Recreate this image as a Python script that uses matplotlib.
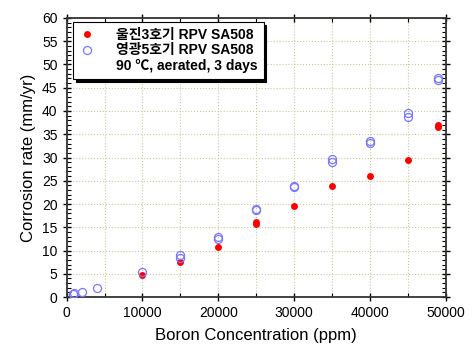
import matplotlib
matplotlib.use("Agg")
from matplotlib import pyplot as plt
from matplotlib.ticker import MultipleLocator
from matplotlib.lines import Line2D

plt.rcParams['font.family'] = ['Liberation Sans', 'Noto Sans CJK KR', 'DejaVu Sans']

# Uljin unit 3 (filled red)
uljin_x = [10000, 15000, 20000, 25000, 25000, 30000, 35000, 40000, 45000, 49000, 49000]
uljin_y = [4.8, 7.6, 10.7, 15.8, 16.1, 19.6, 23.9, 26.1, 29.4, 36.6, 36.9]

# Yonggwang unit 5 (open blue)
ygw_x = [800, 1000, 2000, 4000, 10000, 15000, 15000, 20000, 20000, 25000, 25000, 30000, 30000,
         35000, 35000, 40000, 40000, 45000, 45000, 49000, 49000]
ygw_y = [0.6, 0.8, 1.1, 1.9, 5.4, 8.5, 9.1, 12.5, 13.0, 18.7, 19.0, 23.6, 23.8,
         29.0, 29.6, 33.2, 33.5, 38.8, 39.5, 46.7, 47.2]

legend_labels = ['울진3호기 RPV SA508', '영광5호기 RPV SA508', '90 ℃, aerated, 3 days']

fig = plt.figure(figsize=(4.72, 3.52), dpi=100)
ax = fig.add_axes([0.141, 0.156, 0.804, 0.793])

ax.plot(uljin_x, uljin_y, 'o', color='#ff0000', markersize=5, markeredgewidth=0, zorder=3)
ax.plot(ygw_x, ygw_y, 'o', markerfacecolor='none', markeredgecolor='#7878ff',
        markersize=5.8, markeredgewidth=0.9, zorder=4)

ax.set_xlim(0, 50000)
ax.set_ylim(0, 60)
ax.xaxis.set_major_locator(MultipleLocator(10000))
ax.xaxis.set_minor_locator(MultipleLocator(5000))
ax.yaxis.set_major_locator(MultipleLocator(5))
ax.yaxis.set_minor_locator(MultipleLocator(1))

ax.grid(which='major', axis='y', linestyle=':', color='#c8c89a', linewidth=0.8)
ax.grid(which='both', axis='x', linestyle=':', color='#c8c89a', linewidth=0.8)
ax.set_axisbelow(True)

ax.tick_params(which='major', direction='inout', length=6, width=1, labelsize=10,
               top=True, right=True)
ax.tick_params(which='minor', direction='in', length=3, width=0.8, top=True, right=True)
for s in ax.spines.values():
    s.set_linewidth(1.3)
    s.set_color('#333333')

ax.set_xlabel('Boron Concentration (ppm)', fontsize=12, labelpad=6)
ax.set_ylabel('Corrosion rate (mm/yr)', fontsize=12, labelpad=4)

# legend: two marker rows plus a text-only condition line
handles = [
    Line2D([], [], marker='o', linestyle='none', color='#ff0000', markersize=5, markeredgewidth=0),
    Line2D([], [], marker='o', linestyle='none', markerfacecolor='none',
           markeredgecolor='#7878ff', markersize=5.8, markeredgewidth=0.9),
    Line2D([], [], linestyle='none'),
]
leg = ax.legend(handles, legend_labels, loc='upper left', bbox_to_anchor=(0.018, 0.985),
                borderaxespad=0, frameon=True, fancybox=False, edgecolor='black', framealpha=1,
                shadow={'color': 'black', 'alpha': 1}, handlelength=1.2, handletextpad=1.5,
                borderpad=0.4, labelspacing=0.12, prop={'size': 10, 'weight': 'bold'})
leg.get_frame().set_linewidth(0.8)

fig.savefig('out.png', dpi=100)
